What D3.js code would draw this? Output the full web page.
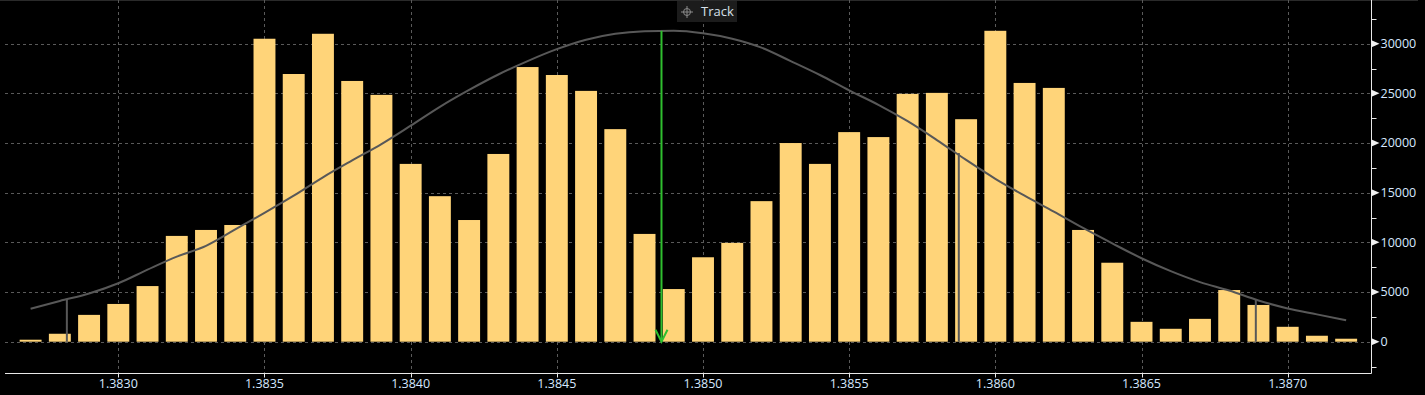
<!DOCTYPE html>
<html><head><meta charset="utf-8">
<script src="https://cdn.jsdelivr.net/npm/d3@7"></script>
<style>
html,body{margin:0;padding:0;background:#000;}
svg{display:block;}
text{font-family:"Open Sans","DejaVu Sans",sans-serif;}
</style></head>
<body>
<svg id="c" width="1425" height="395"></svg>
<script>
// bin centers (price levels)
const bins = [1.3827,1.3828,1.3829,1.3830,1.3831,1.3832,1.3833,1.3834,1.3835,1.3836,
  1.3837,1.3838,1.3839,1.3840,1.3841,1.3842,1.3843,1.3844,1.3845,1.3846,
  1.3847,1.3848,1.3849,1.3850,1.3851,1.3852,1.3853,1.3854,1.3855,1.3856,
  1.3857,1.3858,1.3859,1.3860,1.3861,1.3862,1.3863,1.3864,1.3865,1.3866,
  1.3867,1.3868,1.3869,1.3870,1.3871,1.3872];
const volumes = [200,800,2700,3800,5600,10650,11250,11750,30500,26950,
  31000,26250,24850,17900,14650,12250,18900,27650,26850,25250,
  21400,10850,5300,8500,9950,14150,20000,17900,21100,20600,
  24950,25050,22400,31300,26050,25550,11250,7950,2000,1300,
  2300,5200,3700,1500,600,300];
const curve = [3320,4100,4850,5880,7250,8560,9650,11300,12970,14700,
  16550,18250,19900,21750,23650,25350,26900,28250,29450,30400,
  31000,31250,31300,31050,30500,29600,28250,26850,25300,23850,
  22200,20300,18300,16400,14700,13100,11450,9900,8400,7100,
  6000,5150,4150,3350,2750,2150];
const markerX = [1.382824, 1.385875, 1.386891];
const markerTop = [4300, 19000, 4200];
const meanX = 1.384858, meanTop = 31300;
const xTicks = [1.3830,1.3835,1.3840,1.3845,1.3850,1.3855,1.3860,1.3865,1.3870];
const yTicks = [0,5000,10000,15000,20000,25000,30000];
const yMinor = [-2500,2500,7500,12500,17500,22500,27500,32500];
const binWidth = 0.0001;

const svg = d3.select("#c");
const x = d3.scaleLinear().domain([1.3826124, 1.387285]).range([5, 1371]);
const y = d3.scaleLinear().domain([-3151, 34400]).range([373, 0]);

// top border
svg.append("line").attr("x1",0).attr("x2",1418).attr("y1",0.5).attr("y2",0.5)
  .attr("stroke","#2a2a2a");

// grid
const grid = svg.append("g");
grid.selectAll(".hg").data(yTicks).join("line")
  .attr("x1",5).attr("x2",1371)
  .attr("y1",d=>Math.round(y(d))+0.5).attr("y2",d=>Math.round(y(d))+0.5)
  .attr("stroke","#5a5a5a").attr("stroke-dasharray","3,3");
grid.selectAll(".vg").data(xTicks).join("line")
  .attr("x1",d=>Math.round(x(d))+0.5).attr("x2",d=>Math.round(x(d))+0.5)
  .attr("y1",0).attr("y2",373)
  .attr("stroke","#5a5a5a").attr("stroke-dasharray","3,3");

// bars
const bw = x(binWidth*0.75) - x(0);
svg.append("g").selectAll("rect").data(bins).join("rect")
  .attr("x",(d)=>x(d)-bw/2)
  .attr("width",bw)
  .attr("y",(d,i)=>y(volumes[i]))
  .attr("height",(d,i)=>y(0)-y(volumes[i]))
  .attr("fill","#FFD479");

// normal curve
const line = d3.line().x((d,i)=>x(bins[i])).y(d=>y(d)).curve(d3.curveMonotoneX);
svg.append("path").datum(curve).attr("d",line)
  .attr("fill","none").attr("stroke","#585858").attr("stroke-width",2);

// sigma markers
svg.append("g").selectAll("line").data(markerX).join("line")
  .attr("x1",d=>x(d)).attr("x2",d=>x(d))
  .attr("y1",y(0)).attr("y2",(d,i)=>y(markerTop[i]))
  .attr("stroke","#585858").attr("stroke-width",2);

// mean marker (green arrow)
const mx = x(meanX);
svg.append("line").attr("x1",mx).attr("x2",mx).attr("y1",y(meanTop)).attr("y2",y(0))
  .attr("stroke","#2fbf2f").attr("stroke-width",2);
svg.append("path")
  .attr("d",`M${mx-6},${y(0)-12}L${mx},${y(0)}L${mx+6},${y(0)-12}`)
  .attr("fill","none").attr("stroke","#2fbf2f").attr("stroke-width",2);

// axes
const labelColor = "#d6e8ff";
const xAxisG = svg.append("g").attr("transform","translate(0,373.5)");
xAxisG.append("line").attr("x1",5).attr("x2",1371.5).attr("stroke","#e8e8e8");
xAxisG.selectAll(".t").data(xTicks).join("line")
  .attr("x1",d=>Math.round(x(d))+0.5).attr("x2",d=>Math.round(x(d))+0.5)
  .attr("y1",0).attr("y2",4).attr("stroke","#e8e8e8");
xAxisG.selectAll("text").data(xTicks).join("text")
  .attr("x",d=>x(d)).attr("y",14).attr("text-anchor","middle")
  .attr("fill",labelColor).attr("font-size","12.5px")
  .text(d=>d3.format(".4f")(d));

const yAxisG = svg.append("g").attr("transform","translate(1371.5,0)");
yAxisG.append("line").attr("y1",0).attr("y2",373.5).attr("stroke","#e8e8e8");
yAxisG.selectAll(".mn").data(yMinor).join("line")
  .attr("x1",0).attr("x2",5)
  .attr("y1",d=>Math.round(y(d))+0.5).attr("y2",d=>Math.round(y(d))+0.5)
  .attr("stroke","#e8e8e8");
yAxisG.selectAll(".tri").data(yTicks).join("path")
  .attr("d",d=>{const yy=y(d);return `M0,${yy-3.5}L8,${yy}L0,${yy+3.5}Z`;})
  .attr("fill","#f0f0f0");
yAxisG.selectAll("text").data(yTicks).join("text")
  .attr("x",9).attr("y",d=>y(d)).attr("dy","0.35em")
  .attr("fill",labelColor).attr("font-size","12.5px")
  .text(d=>d3.format("d")(d));

// Track button
const tb = svg.append("g").attr("transform","translate(677,1)");
tb.append("rect").attr("width",60).attr("height",21).attr("fill","#1c1c1c");
const ic = tb.append("g").attr("transform","translate(10,11)").attr("stroke","#8a8a8a").attr("fill","none");
ic.append("circle").attr("r",3.5);
ic.append("line").attr("x1",-6).attr("x2",6);
ic.append("line").attr("y1",-6).attr("y2",6);
tb.append("text").attr("x",24).attr("y",15).attr("fill","#d6e0ea")
  .attr("font-size","13px").text("Track");
</script>
</body></html>
